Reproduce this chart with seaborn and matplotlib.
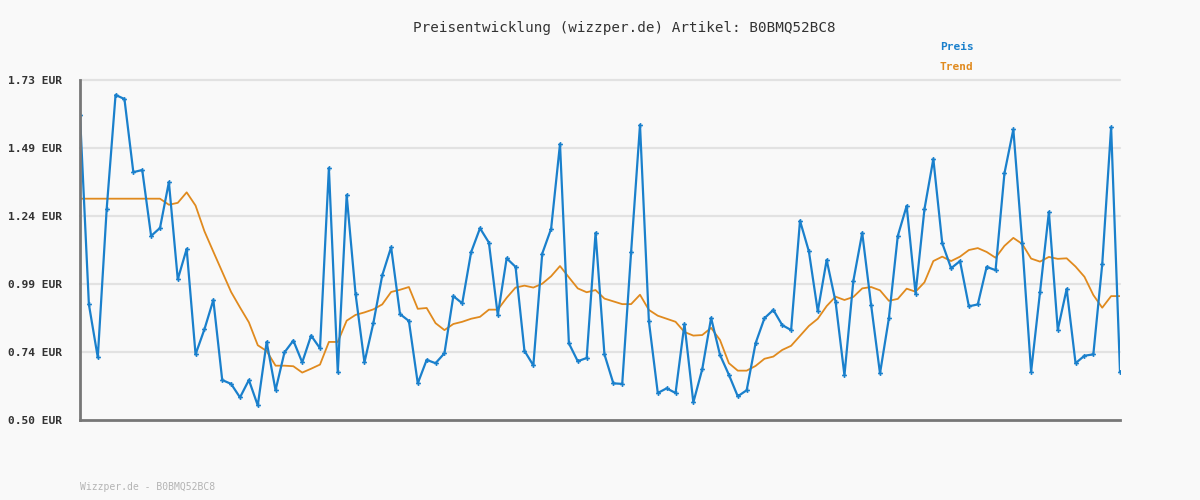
import numpy as np
import pandas as pd
import matplotlib
matplotlib.use("Agg")
import matplotlib.pyplot as plt
import seaborn as sns

title = "Preisentwicklung (wizzper.de) Artikel: B0BMQ52BC8"
footer = "Wizzper.de - B0BMQ52BC8"
series_names = ["Preis", "Trend"]

preis = [1.603, 0.917, 0.725, 1.262, 1.676, 1.661, 1.396, 1.404, 1.165, 1.194,
         1.360, 1.008, 1.118, 0.736, 0.827, 0.933, 0.643, 0.629, 0.580, 0.643,
         0.551, 0.781, 0.606, 0.743, 0.786, 0.707, 0.804, 0.758, 1.411, 0.671,
         1.313, 0.955, 0.707, 0.849, 1.022, 1.124, 0.882, 0.857, 0.631, 0.716,
         0.704, 0.740, 0.947, 0.921, 1.106, 1.193, 1.141, 0.878, 1.084, 1.053,
         0.749, 0.696, 1.101, 1.191, 1.498, 0.776, 0.711, 0.723, 1.176, 0.736,
         0.631, 0.629, 1.107, 1.567, 0.856, 0.596, 0.613, 0.596, 0.846, 0.562,
         0.682, 0.868, 0.734, 0.662, 0.584, 0.606, 0.776, 0.867, 0.897, 0.842,
         0.824, 1.220, 1.109, 0.892, 1.078, 0.927, 0.660, 1.002, 1.176, 0.915,
         0.667, 0.867, 1.165, 1.274, 0.956, 1.262, 1.444, 1.139, 1.048, 1.074,
         0.910, 0.917, 1.053, 1.041, 1.392, 1.551, 1.139, 0.673, 0.961, 1.252,
         0.825, 0.973, 0.704, 0.731, 0.736, 1.062, 1.559, 0.673]

trend = [1.300, 1.300, 1.300, 1.300, 1.300, 1.300, 1.300, 1.300, 1.300, 1.300,
         1.278, 1.285, 1.323, 1.275, 1.182, 1.108, 1.035, 0.962, 0.906, 0.852,
         0.769, 0.748, 0.695, 0.695, 0.693, 0.670, 0.684, 0.699, 0.781, 0.781,
         0.858, 0.879, 0.888, 0.899, 0.917, 0.962, 0.970, 0.980, 0.901, 0.904,
         0.849, 0.824, 0.846, 0.854, 0.865, 0.872, 0.898, 0.898, 0.941, 0.978,
         0.985, 0.978, 0.992, 1.019, 1.056, 1.015, 0.975, 0.961, 0.969, 0.938,
         0.928, 0.918, 0.918, 0.952, 0.897, 0.876, 0.865, 0.854, 0.817, 0.804,
         0.806, 0.832, 0.788, 0.704, 0.677, 0.677, 0.694, 0.720, 0.728, 0.752,
         0.767, 0.803, 0.839, 0.865, 0.911, 0.945, 0.933, 0.944, 0.975, 0.980,
         0.968, 0.930, 0.937, 0.974, 0.963, 0.997, 1.074, 1.090, 1.074, 1.090,
         1.114, 1.121, 1.107, 1.086, 1.129, 1.158, 1.136, 1.083, 1.072, 1.089,
         1.082, 1.084, 1.054, 1.017, 0.951, 0.905, 0.947, 0.947]

y_min, y_max = 0.50, 1.73
tick_labels = ["0.50 EUR", "0.74 EUR", "0.99 EUR", "1.24 EUR", "1.49 EUR", "1.73 EUR"]

BLUE = "#1a80cc"
ORANGE = "#e08a1e"
BG = "#f9f9f9"

sns.set_theme(style="white")
plt.rcParams["font.family"] = ["DejaVu Sans Mono", "DejaVu Sans"]

df = pd.DataFrame({"idx": np.arange(len(preis)), "Preis": preis, "Trend": trend})

fig = plt.figure(figsize=(12, 5), dpi=100, facecolor=BG)
ax = fig.add_axes([80 / 1200, 1 - 419.5 / 500, 1040 / 1200, 339.5 / 500])
ax.set_facecolor(BG)

sns.lineplot(data=df, x="idx", y="Trend", ax=ax, color=ORANGE, linewidth=1.3, zorder=3)
sns.lineplot(data=df, x="idx", y="Preis", ax=ax, color=BLUE, linewidth=1.6,
             marker="P", markersize=3.5, markeredgewidth=0, zorder=4)

ax.set_xlim(0, len(preis) - 1)
ax.set_ylim(y_min, y_max)
ticks = np.linspace(y_min, y_max, len(tick_labels))
ax.set_yticks(ticks)
ax.set_yticklabels(tick_labels, fontsize=8.1, fontweight="bold", color="#333333")
ax.set_xticks([])
ax.set_xlabel("")
ax.set_ylabel("")
ax.tick_params(axis="y", length=0, pad=13)
for t in ticks[1:]:
    ax.axhline(t, color="#e2e2e2", linewidth=1.6, zorder=1, clip_on=False)
ax.grid(False)

for s in ["top", "right"]:
    ax.spines[s].set_visible(False)
for s in ["left", "bottom"]:
    ax.spines[s].set_color("#777777")
    ax.spines[s].set_linewidth(2)
    ax.spines[s].set_zorder(5)

fig.text(624 / 1200, 1 - 28 / 500, title, ha="center", va="center",
         fontsize=10.3, color="#333333")
fig.text(940 / 1200, 1 - 47 / 500, series_names[0], ha="left", va="center",
         fontsize=8, fontweight="bold", color=BLUE)
fig.text(940 / 1200, 1 - 67 / 500, series_names[1], ha="left", va="center",
         fontsize=8, fontweight="bold", color=ORANGE)
fig.text(80 / 1200, 1 - 487 / 500, footer, ha="left", va="center",
         fontsize=7, color="#b4b4b4")

fig.savefig("out.png", dpi=100, facecolor=BG)
